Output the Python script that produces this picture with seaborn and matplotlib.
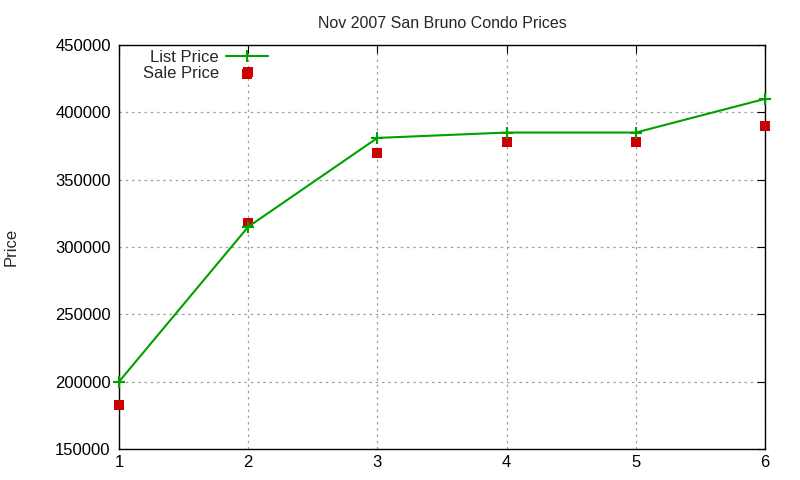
import numpy as np
import pandas as pd
import matplotlib
matplotlib.use("Agg")
import matplotlib.pyplot as plt
import seaborn as sns

# values
list_x = [1, 2, 3, 4, 5, 6]
list_price = [200000, 315000, 381000, 385000, 385000, 410000]
sale_x = [1, 2, 2, 3, 4, 5, 6]
sale_price = [183000, 430000, 318000, 370000, 378000, 378000, 390000]

sns.set_style("white")
plt.rcParams['font.family'] = ['Liberation Sans', 'DejaVu Sans']

fig = plt.figure(figsize=(8, 4.8), dpi=100)
ax = fig.add_axes([119 / 800, 31 / 480, 646 / 800, 404 / 480])

df_list = pd.DataFrame({"x": list_x, "price": list_price})
df_sale = pd.DataFrame({"x": sale_x, "price": sale_price})

sns.lineplot(data=df_list, x="x", y="price", ax=ax, color="#00a000", lw=1.5,
             marker="+", markersize=9, markeredgewidth=1.5, markeredgecolor="#00a000",
             label="List Price", clip_on=False, zorder=4)
sns.scatterplot(data=df_sale, x="x", y="price", ax=ax, color="#cc0000", marker="s",
                s=50, linewidth=0, label="Sale Price", zorder=3, clip_on=False)

ax.set_xlim(1, 6)
ax.set_ylim(150000, 450000)
ax.set_xticks(list_x)
ax.set_yticks(np.arange(150000, 450001, 50000))
ax.yaxis.set_major_formatter(matplotlib.ticker.FuncFormatter(lambda v, p: f"{int(v)}"))
ax.grid(True, color="#a0a0a0", linestyle=(0, (2, 3)), lw=0.9)
ax.tick_params(direction="in", length=6, top=True, right=True, labelsize=12, colors="black")
ax.tick_params(axis="y", pad=6)
ax.tick_params(axis="x", pad=4)
for s in ax.spines.values():
    s.set_color("black")
    s.set_linewidth(1)

ax.set_xlabel("")
ax.set_ylabel("Price", fontsize=12)
ax.yaxis.set_label_coords(-100 / 646, 0.5)
ax.set_title("Nov 2007 San Bruno Condo Prices", fontsize=11.5, pad=12)

leg = ax.legend(loc="upper left", bbox_to_anchor=(0.021, 1.012), frameon=False, markerfirst=False,
                fontsize=12, handlelength=2.5, handletextpad=0.45, borderaxespad=0.2, labelspacing=0.05)
for t in leg.get_texts():
    t.set_ha("right")

fig.savefig("out.png", dpi=100)
